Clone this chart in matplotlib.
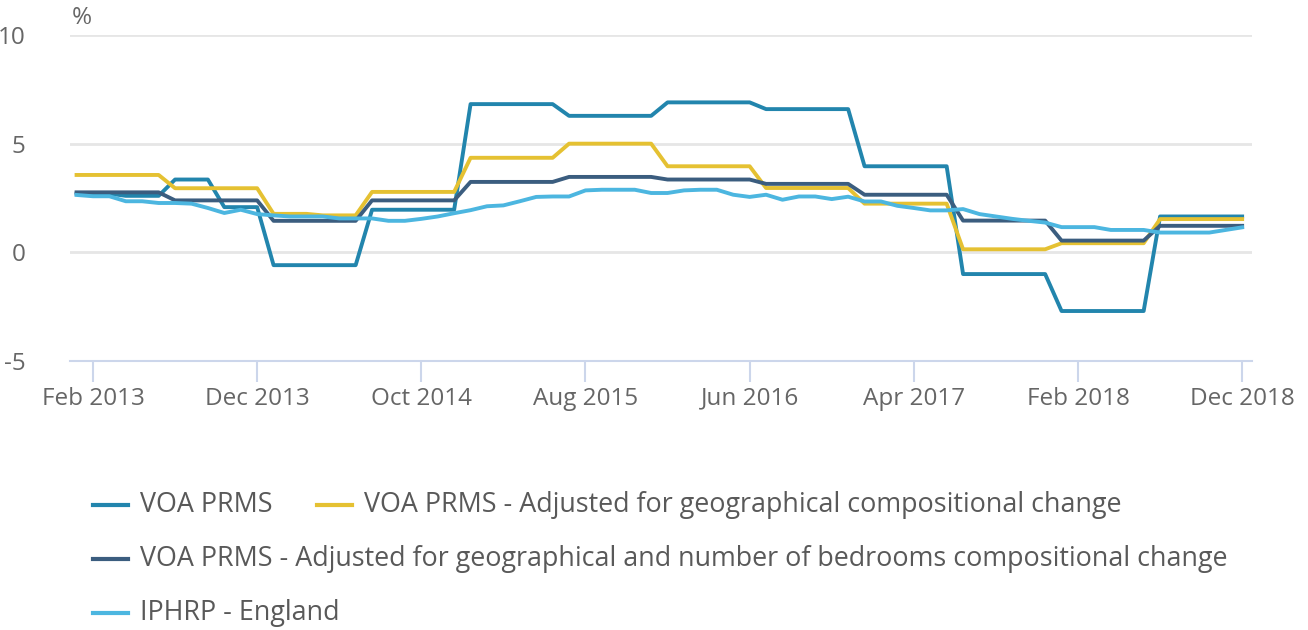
import matplotlib
matplotlib.use("Agg")
import matplotlib.pyplot as plt
from matplotlib.lines import Line2D
import numpy as np

plt.rcParams['font.family'] = ['Open Sans', 'DejaVu Sans']

# Monthly, Jan 2013 .. Dec 2018 (annual % change)
months = [f"{m} {y}" for y in range(2013, 2019)
          for m in ["Jan", "Feb", "Mar", "Apr", "May", "Jun",
                    "Jul", "Aug", "Sep", "Oct", "Nov", "Dec"]]

voa_prms = [2.70, 2.70, 2.70, 2.60, 2.60, 2.60, 3.35, 3.35, 3.35, 2.08, 2.08, 2.08,
            -0.59, -0.59, -0.59, -0.59, -0.59, -0.59, 1.96, 1.96, 1.96, 1.96, 1.96, 1.96,
            6.82, 6.82, 6.82, 6.82, 6.82, 6.82, 6.28, 6.28, 6.28, 6.28, 6.28, 6.28,
            6.90, 6.90, 6.90, 6.90, 6.90, 6.90, 6.59, 6.59, 6.59, 6.59, 6.59, 6.59,
            3.96, 3.96, 3.96, 3.96, 3.96, 3.96, -1.00, -1.00, -1.00, -1.00, -1.00, -1.00,
            -2.70, -2.70, -2.70, -2.70, -2.70, -2.70, 1.65, 1.65, 1.65, 1.65, 1.65, 1.65]

voa_geo = [3.56, 3.56, 3.56, 3.56, 3.56, 3.56, 2.95, 2.95, 2.95, 2.95, 2.95, 2.95,
           1.77, 1.77, 1.77, 1.70, 1.70, 1.70, 2.78, 2.78, 2.78, 2.78, 2.78, 2.78,
           4.35, 4.35, 4.35, 4.35, 4.35, 4.35, 5.00, 5.00, 5.00, 5.00, 5.00, 5.00,
           3.96, 3.96, 3.96, 3.96, 3.96, 3.96, 2.96, 2.96, 2.96, 2.96, 2.96, 2.96,
           2.24, 2.24, 2.24, 2.24, 2.24, 2.24, 0.14, 0.14, 0.14, 0.14, 0.14, 0.14,
           0.42, 0.42, 0.42, 0.42, 0.42, 0.42, 1.53, 1.53, 1.53, 1.53, 1.53, 1.53]

voa_geo_beds = [2.76, 2.76, 2.76, 2.76, 2.76, 2.76, 2.39, 2.39, 2.39, 2.39, 2.39, 2.39,
                1.45, 1.45, 1.45, 1.45, 1.45, 1.45, 2.39, 2.39, 2.39, 2.39, 2.39, 2.39,
                3.24, 3.24, 3.24, 3.24, 3.24, 3.24, 3.47, 3.47, 3.47, 3.47, 3.47, 3.47,
                3.35, 3.35, 3.35, 3.35, 3.35, 3.35, 3.15, 3.15, 3.15, 3.15, 3.15, 3.15,
                2.65, 2.65, 2.65, 2.65, 2.65, 2.65, 1.46, 1.46, 1.46, 1.46, 1.46, 1.46,
                0.54, 0.54, 0.54, 0.54, 0.54, 0.54, 1.22, 1.22, 1.22, 1.22, 1.22, 1.22]

iphrp = [2.64, 2.58, 2.58, 2.35, 2.35, 2.27, 2.27, 2.24, 2.04, 1.81, 1.96, 1.76,
         1.70, 1.65, 1.65, 1.65, 1.56, 1.56, 1.56, 1.45, 1.45, 1.54, 1.65, 1.80,
         1.94, 2.12, 2.16, 2.35, 2.55, 2.57, 2.57, 2.85, 2.88, 2.88, 2.88, 2.73,
         2.73, 2.85, 2.88, 2.88, 2.65, 2.55, 2.65, 2.42, 2.57, 2.57, 2.45, 2.56,
         2.34, 2.34, 2.14, 2.04, 1.93, 1.93, 1.99, 1.76, 1.65, 1.54, 1.45, 1.37,
         1.16, 1.16, 1.16, 1.03, 1.03, 1.03, 0.91, 0.91, 0.91, 0.91, 1.03, 1.15]

series_names = ["VOA PRMS",
                "VOA PRMS - Adjusted for geographical compositional change",
                "VOA PRMS - Adjusted for geographical and number of bedrooms compositional change",
                "IPHRP - England"]
series_colors = ["#2285ad", "#e5c132", "#3b5d7f", "#4cb6e0"]

tick_labels = ["Feb 2013", "Dec 2013", "Oct 2014", "Aug 2015",
               "Jun 2016", "Apr 2017", "Feb 2018", "Dec 2018"]

fig = plt.figure(figsize=(13.08, 6.30), dpi=100)
W, H = 1308, 630
ax = fig.add_axes([70 / W, 1 - 361 / H, (1252 - 70) / W, (361 - 35) / H])

x = np.arange(len(months))
for vals, col in zip([voa_prms, voa_geo, voa_geo_beds, iphrp], series_colors):
    ax.plot(x, vals, color=col, lw=2.8, solid_joinstyle="round", zorder=3)

ax.set_ylim(-5, 10)
ax.set_yticks([-5, 0, 5, 10])
ax.set_yticklabels(["-5", "0", "5", "10"])
ax.set_xlim(-0.4, 71.6)
ax.set_xticks([months.index(t) for t in tick_labels])
ax.set_xticklabels(tick_labels)

ax.grid(axis="y", color="#e6e6e6", lw=2)
ax.set_axisbelow(True)
for s in ["top", "right", "left"]:
    ax.spines[s].set_visible(False)
ax.spines["bottom"].set_color("#ccd6eb")
ax.spines["bottom"].set_linewidth(1.5)
ax.tick_params(axis="x", length=15, width=1.5, color="#ccd6eb",
               labelsize=17.5, labelcolor="#666666", pad=16.5)
ax.tick_params(axis="y", length=0, labelsize=17.5, labelcolor="#666666", pad=32)
# same baseline for all date labels
for t in ax.get_xticklabels():
    t.set_verticalalignment("baseline")

fig.text(72 / W, 1 - 18 / H, "%", fontsize=17.5, color="#666666", va="center")

# legend laid out like the source (two items on the first row)
leg = [(93, 505, 0), (317, 505, 1), (93, 559, 2), (93, 613, 3)]
for lx, ly, k in leg:
    fig.add_artist(Line2D([lx / W, (lx + 35) / W], [1 - ly / H, 1 - ly / H],
                          color=series_colors[k], lw=3, transform=fig.transFigure))
    fig.text((lx + 47) / W, 1 - ly / H, series_names[k], fontsize=19.4,
             color="#595959", va="center", ha="left")

fig.savefig("out.png", dpi=100)
